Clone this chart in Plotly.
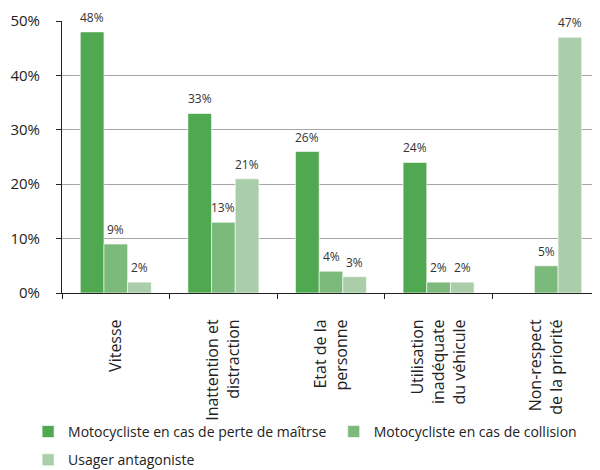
import plotly.graph_objects as go

categories = ["Vitesse", "Inattention et<br>distraction", "Etat de la<br>personne",
              "Utilisation<br>inadéquate<br>du véhicule", "Non-respect<br>de la priorité"]
series_names = ["Motocycliste en cas de perte de maîtrse",
                "Motocycliste en cas de collision",
                "Usager antagoniste"]
perte_maitrise = [48, 33, 26, 24, None]
collision = [9, 13, 4, 2, 5]
antagoniste = [2, 21, 3, 2, 47]
colors = ["#50A850", "#7CBA7C", "#AACEAA"]
y_ticks = [0, 10, 20, 30, 40, 50]
y_ticktext = ["0%", "10%", "20%", "30%", "40%", "50%"]

W, H = 600, 470
ML, MR, MT, MB = 54, 8, 13, 185
BARGAP = 0.34

fig = go.Figure()
all_series = [perte_maitrise, collision, antagoniste]
legend_ids = ["legend", "legend2", "legend"]
groups = ["g1", "g2", "g3"]
for name, vals, col, lg, grp in zip(series_names, all_series, colors, legend_ids, groups):
    fig.add_trace(go.Bar(
        x=categories, y=vals, name=name, legend=lg, legendgroup=grp,
        marker=dict(color=col, line=dict(color="rgba(255,255,255,0.6)", width=1)),
    ))

# data labels above bars
cat_px = (W - ML - MR) / len(categories)
bar_px = cat_px * (1 - BARGAP) / len(all_series)
for i, vals in enumerate(all_series):
    for c, v in zip(categories, vals):
        if v is None:
            continue
        fig.add_annotation(x=c, y=v, text=f"{v}%", showarrow=False,
                           xshift=(i - 1) * bar_px, yshift=15, height=14,
                           font=dict(family="Open Sans", size=12, color="#333333"))

legend_common = dict(orientation="v", yanchor="top", xanchor="left",
                     font=dict(size=14, color="#222222"), traceorder="grouped",
                     itemwidth=30, tracegroupgap=7, bgcolor="rgba(0,0,0,0)")
fig.update_layout(
    width=W, height=H,
    margin=dict(l=ML, r=MR, t=MT, b=MB, autoexpand=False),
    paper_bgcolor="white", plot_bgcolor="white",
    barmode="group", bargap=BARGAP, bargroupgap=0,
    font=dict(family="Open Sans", color="#222222"),
    showlegend=True,
    legend=dict(x=-0.063, y=-0.452, **legend_common),
    legend2=dict(x=0.505, y=-0.452, **legend_common),
)
fig.update_yaxes(range=[0, 50], tickvals=y_ticks, ticktext=y_ticktext,
                 showgrid=True, gridcolor="#A6A6A6", gridwidth=1,
                 showline=True, linecolor="#222222", linewidth=1,
                 ticks="outside", ticklen=5, tickcolor="#222222",
                 tickfont=dict(size=15, color="#222222"), zeroline=False,
                 ticklabelstandoff=13, automargin=False)
fig.update_xaxes(tickangle=-90, tickson="boundaries", ticks="outside", ticklen=5,
                 tickcolor="#222222", showline=True, linecolor="#222222", linewidth=1,
                 tickfont=dict(size=16, color="#222222"), ticklabelstandoff=19,
                 automargin=False)

fig.write_html("out.html")
